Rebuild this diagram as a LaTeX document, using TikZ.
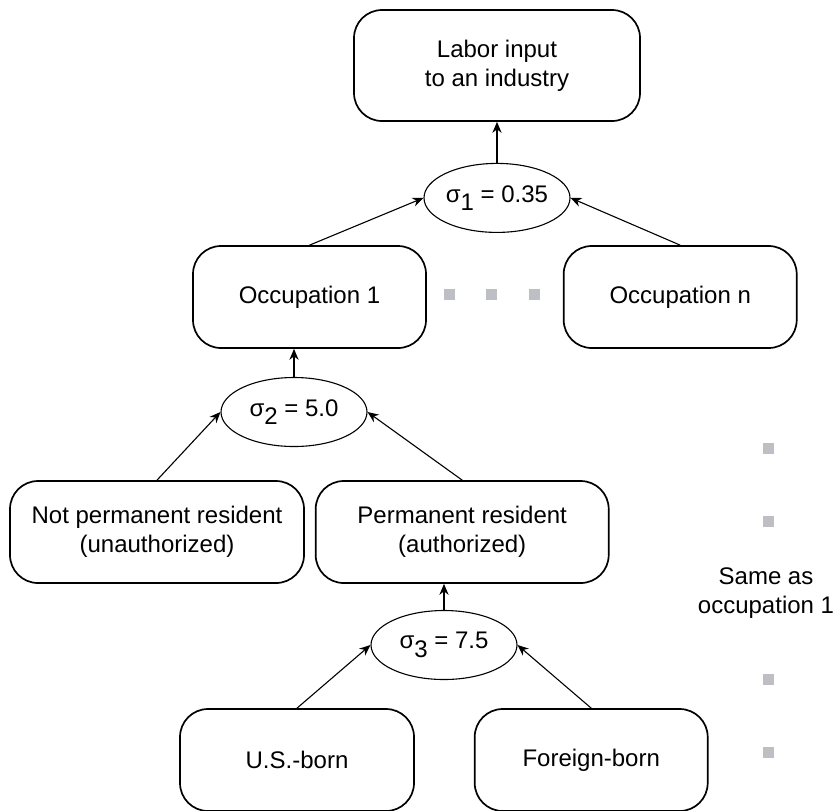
\documentclass[tikz,border=0pt]{standalone}
\usepackage{fontspec}
\setmainfont{Liberation Sans}
\usetikzlibrary{positioning,shapes.geometric,arrows.meta}

\definecolor{dotgray}{RGB}{190,191,196}
\tikzset{
    box/.style={draw, line width=0.85pt, rounded corners=14pt, align=center, inner sep=0pt},
    sigma/.style={draw, ellipse, line width=0.55pt, minimum width=73pt, minimum height=34.5pt, inner sep=0pt},
    link/.style={-{Stealth[length=5.5pt,width=4.6pt]}, line width=0.55pt},
    graydot/.style={fill=dotgray, minimum size=5.5pt, inner sep=0pt}
}

\begin{document}
\begin{tikzpicture}[x=1pt, y=1pt, font=\fontsize{12}{14.5}\selectfont]
    \useasboundingbox (0,0) rectangle (417,-405);

    \node[box, minimum width=143pt, minimum height=55.5pt] (labor) at (248.5,-32.75) {Labor input\\to an industry};
    \node[sigma, below=20.5pt of labor] (s1) {σ\raisebox{-0.35em}{1} = 0.35};

    \node[box, minimum width=116.5pt, minimum height=51pt] (occ1) at (154.75,-148.5) {Occupation 1};
    \node[box, minimum width=116.5pt, minimum height=51pt, right=68pt of occ1] (occn) {Occupation n};
    \foreach \x [count=\i] in {224.5,245.5,267}
        \node[graydot] (mid\i) at (\x,-147) {};

    \node[sigma] (s2) at (147,-206) {σ\raisebox{-0.35em}{2} = 5.0};

    \node[box, minimum width=147pt, minimum height=51pt] (notperm) at (78.5,-266) {Not permanent resident\\(unauthorized)};
    \node[box, minimum width=146.5pt, minimum height=51pt, right=5pt of notperm] (perm) {Permanent resident\\(authorized)};

    \node[sigma] (s3) at (222,-322.5) {σ\raisebox{-0.35em}{3} = 7.5};

    \node[box, minimum width=117pt, minimum height=51pt] (usborn) at (148.5,-380) {U.S.-born};
    \node[box, minimum width=116.5pt, minimum height=51pt, right=29.5pt of usborn] (foreign) {Foreign-born};

    \foreach \y [count=\i] in {-224,-260.5,-339.5,-376}
        \node[graydot] (side\i) at (384,\y) {};
    \node[align=center] (same) at (383,-296.5) {Same as\\occupation 1};

    \draw[link] (s1.north) -- (labor.south);
    \draw[link] (occ1.north) -- (s1.west);
    \draw[link] (occn.north) -- (s1.east);
    \draw[link] (s2.north) -- (s2.north |- occ1.south);
    \draw[link] (notperm.north) -- (s2.west);
    \draw[link] (perm.north) -- (s2.east);
    \draw[link] (s3.north) -- (s3.north |- perm.south);
    \draw[link] (usborn.north) -- (s3.west);
    \draw[link] (foreign.north) -- (s3.east);
\end{tikzpicture}
\end{document}
